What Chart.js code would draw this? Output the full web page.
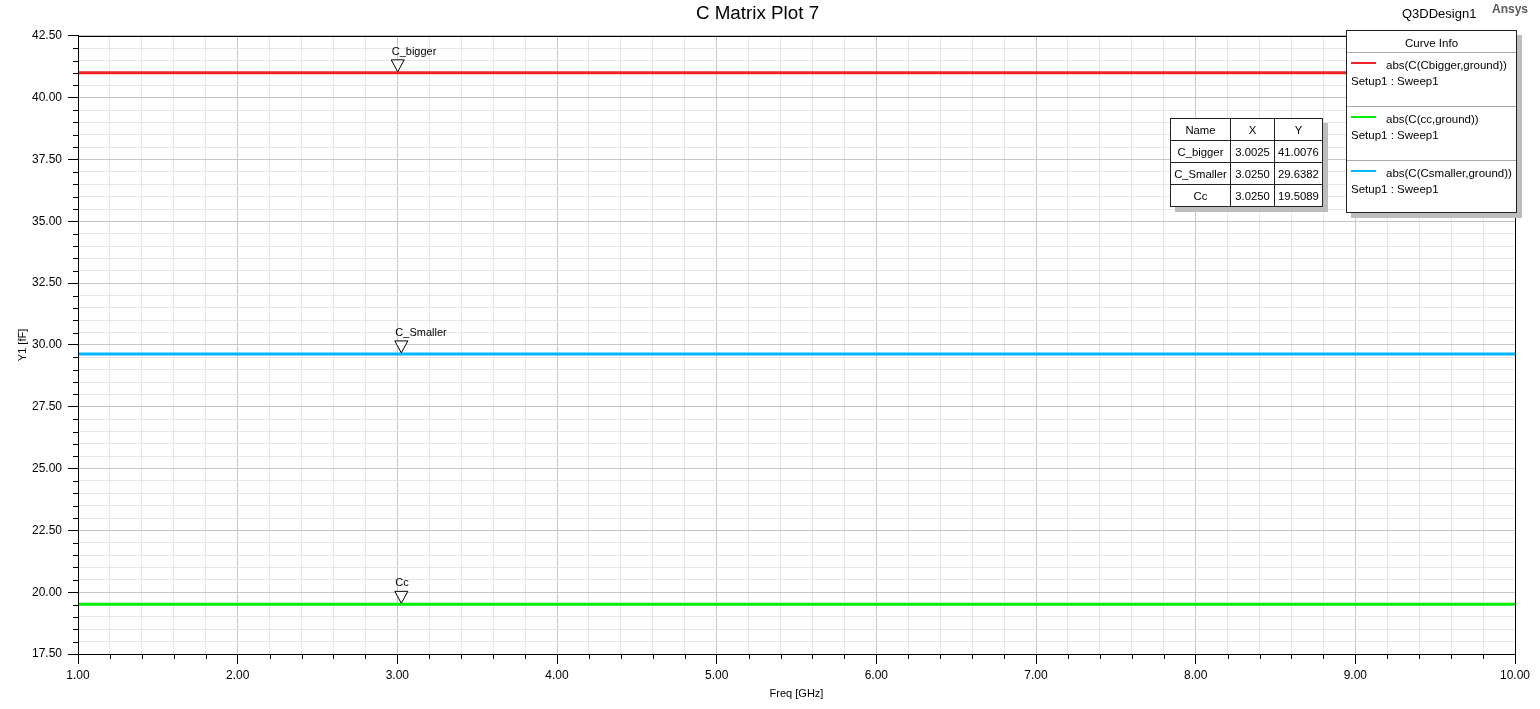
<!DOCTYPE html>
<html>
<head>
<meta charset="utf-8">
<script src="https://cdn.jsdelivr.net/npm/chart.js@4.4.0/dist/chart.umd.min.js"></script>
<style>
  body { margin: 0; background: #fff; font-family: "Liberation Sans", Arial, sans-serif; }
  #wrap { position: relative; width: 1540px; height: 709px; }
  #design { position: absolute; left: 1402px; top: 6px; font-size: 13px; color: #000; }
  #ansys { position: absolute; left: 1492px; top: 2px; font-size: 12px; font-weight: bold; color: #5a5a5a; }
  #curveInfo {
    position: absolute; left: 1346px; top: 30px; width: 169px; height: 181px;
    border: 1px solid #222; background: #fff; box-shadow: 5px 5px 0 #bdbdbd; font-size: 11.5px;
  }
  #curveInfo .head { height: 21px; line-height: 24px; text-align: center; border-bottom: 1px solid #aaa; }
  #curveInfo .entry { position: relative; height: 53px; border-bottom: 1px solid #aaa; }
  #curveInfo .entry:last-child { border-bottom: none; }
  #curveInfo .swatch { position: absolute; left: 4px; top: 9px; width: 25px; height: 2px; }
  #curveInfo .name { position: absolute; left: 39px; top: 6px; }
  #curveInfo .setup { position: absolute; left: 4px; top: 22px; }
  #markerTable {
    position: absolute; left: 1170px; top: 118px; border-collapse: collapse;
    background: #fff; box-shadow: 5px 5px 0 #bdbdbd; font-size: 11.3px;
  }
  #markerTable td { border: 1px solid #222; text-align: center; padding: 0 3px; height: 21px; }
</style>
</head>
<body>
<div id="wrap">
  <canvas id="plot" width="1540" height="709"></canvas>
  <div id="design">Q3DDesign1</div>
  <div id="ansys">Ansys</div>
  <div id="curveInfo"></div>
  <table id="markerTable"></table>
</div>
<script>
// sweep points (GHz) and capacitance curves (fF)
const freqGHz = [1, 2, 3, 4, 5, 6, 7, 8, 9, 10];
const cBigger = [41.0076, 41.0076, 41.0076, 41.0076, 41.0076, 41.0076, 41.0076, 41.0076, 41.0076, 41.0076];
const cCc = [19.5089, 19.5089, 19.5089, 19.5089, 19.5089, 19.5089, 19.5089, 19.5089, 19.5089, 19.5089];
const cSmaller = [29.6382, 29.6382, 29.6382, 29.6382, 29.6382, 29.6382, 29.6382, 29.6382, 29.6382, 29.6382];

const curveNames = ['abs(C(Cbigger,ground))', 'abs(C(cc,ground))', 'abs(C(Csmaller,ground))'];
const curveColors = ['#ee2227', '#00f000', '#00b7ff'];
const setupName = 'Setup1 : Sweep1';

// markers
const markerNames = ['C_bigger', 'C_Smaller', 'Cc'];
const markerX = [3.0025, 3.0250, 3.0250];
const markerY = [41.0076, 29.6382, 19.5089];

const yMin = 17.5, yMax = 42.5, yMajor = 2.5, yMinor = 0.5;
const xMin = 1, xMax = 10, xMajor = 1, xMinor = 0.2;

const isMajor = (v, step) => Math.abs(v / step - Math.round(v / step)) < 1e-6;

const series = [cBigger, cCc, cSmaller];
const datasets = series.map((vals, i) => ({
  label: curveNames[i],
  data: freqGHz.map((f, j) => ({ x: f, y: vals[j] })),
  borderColor: curveColors[i],
  borderWidth: 3,
  pointRadius: 0,
  fill: false
}));

// minor ticks, plot frame and markers
const extras = {
  id: 'extras',
  afterDraw(chart) {
    const { ctx, chartArea: a, scales: { x, y } } = chart;
    ctx.save();
    ctx.strokeStyle = '#000';
    ctx.lineWidth = 1;
    ctx.beginPath();
    x.ticks.forEach(t => {
      if (isMajor(t.value, xMajor)) return;
      const px = Math.round(x.getPixelForValue(t.value)) + 0.5;
      ctx.moveTo(px, a.bottom); ctx.lineTo(px, a.bottom + 5);
    });
    y.ticks.forEach(t => {
      if (isMajor(t.value, yMajor)) return;
      const py = Math.round(y.getPixelForValue(t.value)) + 0.5;
      ctx.moveTo(a.left - 5, py); ctx.lineTo(a.left, py);
    });
    ctx.stroke();
    ctx.strokeRect(Math.round(a.left) + 0.5, Math.round(a.top) + 0.5, Math.round(a.right - a.left), Math.round(a.bottom - a.top));

    ctx.font = '11px "Liberation Sans", Arial, sans-serif';
    ctx.fillStyle = '#000';
    ctx.textBaseline = 'middle';
    markerNames.forEach((name, i) => {
      const px = x.getPixelForValue(markerX[i]);
      const py = y.getPixelForValue(markerY[i]);
      ctx.beginPath();
      ctx.moveTo(px, py - 1);
      ctx.lineTo(px - 6.5, py - 13);
      ctx.lineTo(px + 6.5, py - 13);
      ctx.closePath();
      ctx.fillStyle = '#fff';
      ctx.fill();
      ctx.stroke();
      ctx.fillStyle = '#000';
      ctx.fillText(name, px - 6, py - 21);
    });
    ctx.restore();
  }
};

new Chart(document.getElementById('plot').getContext('2d'), {
  type: 'line',
  data: { datasets },
  plugins: [extras],
  options: {
    responsive: false,
    animation: false,
    devicePixelRatio: 1,
    layout: { padding: { left: 0, right: 25, top: 0, bottom: 0 } },
    plugins: {
      legend: { display: false },
      tooltip: { enabled: false },
      title: {
        display: true,
        text: 'C Matrix Plot 7',
        color: '#000',
        font: { family: '"Liberation Sans", Arial, sans-serif', size: 18.8, weight: 'normal', lineHeight: 1.2 },
        padding: { top: 3, bottom: 10.4 }
      }
    },
    scales: {
      x: {
        type: 'linear',
        min: xMin, max: xMax,
        afterFit: s => { s.height = 55; },
        border: { color: '#000', width: 1 },
        grid: {
          color: c => isMajor(c.tick.value, xMajor) ? '#c6c6c6' : '#e6e6e6',
          tickColor: c => isMajor(c.tick.value, xMajor) ? '#000' : 'rgba(0,0,0,0)',
          tickLength: 10
        },
        ticks: {
          stepSize: xMinor,
          autoSkip: false,
          maxTicksLimit: 200,
          maxRotation: 0,
          padding: 4,
          color: '#000',
          font: { family: '"Liberation Sans", Arial, sans-serif', size: 12 },
          callback: v => isMajor(v, xMajor) ? v.toFixed(2) : ''
        },
        title: {
          display: true,
          text: 'Freq [GHz]',
          color: '#000',
          font: { family: '"Liberation Sans", Arial, sans-serif', size: 11 },
          padding: { top: 0, bottom: 8.4 }
        }
      },
      y: {
        type: 'linear',
        min: yMin, max: yMax,
        afterFit: s => { s.width = 78; },
        border: { color: '#000', width: 1 },
        grid: {
          color: c => isMajor(c.tick.value, yMajor) ? '#c6c6c6' : '#e6e6e6',
          tickColor: c => isMajor(c.tick.value, yMajor) ? '#000' : 'rgba(0,0,0,0)',
          tickLength: 10
        },
        ticks: {
          stepSize: yMinor,
          autoSkip: false,
          maxTicksLimit: 200,
          padding: 6,
          color: '#000',
          font: { family: '"Liberation Sans", Arial, sans-serif', size: 12 },
          callback: v => isMajor(v, yMajor) ? v.toFixed(2) : ''
        },
        title: {
          display: true,
          text: 'Y1 [fF]',
          color: '#000',
          font: { family: '"Liberation Sans", Arial, sans-serif', size: 11 },
          padding: { top: 16, bottom: 0 }
        }
      }
    }
  }
});

// curve info box
const info = document.getElementById('curveInfo');
info.innerHTML = '<div class="head">Curve Info</div>' + curveNames.map((n, i) =>
  `<div class="entry"><div class="swatch" style="background:${curveColors[i]}"></div>` +
  `<div class="name">${n}</div><div class="setup">${setupName}</div></div>`).join('');

// marker table
const table = document.getElementById('markerTable');
table.innerHTML = '<tr><td style="width:53px">Name</td><td style="width:37px">X</td><td style="width:40px">Y</td></tr>' +
  markerNames.map((n, i) => `<tr><td>${n}</td><td>${markerX[i].toFixed(4)}</td><td>${markerY[i].toFixed(4)}</td></tr>`).join('');
</script>
</body>
</html>
